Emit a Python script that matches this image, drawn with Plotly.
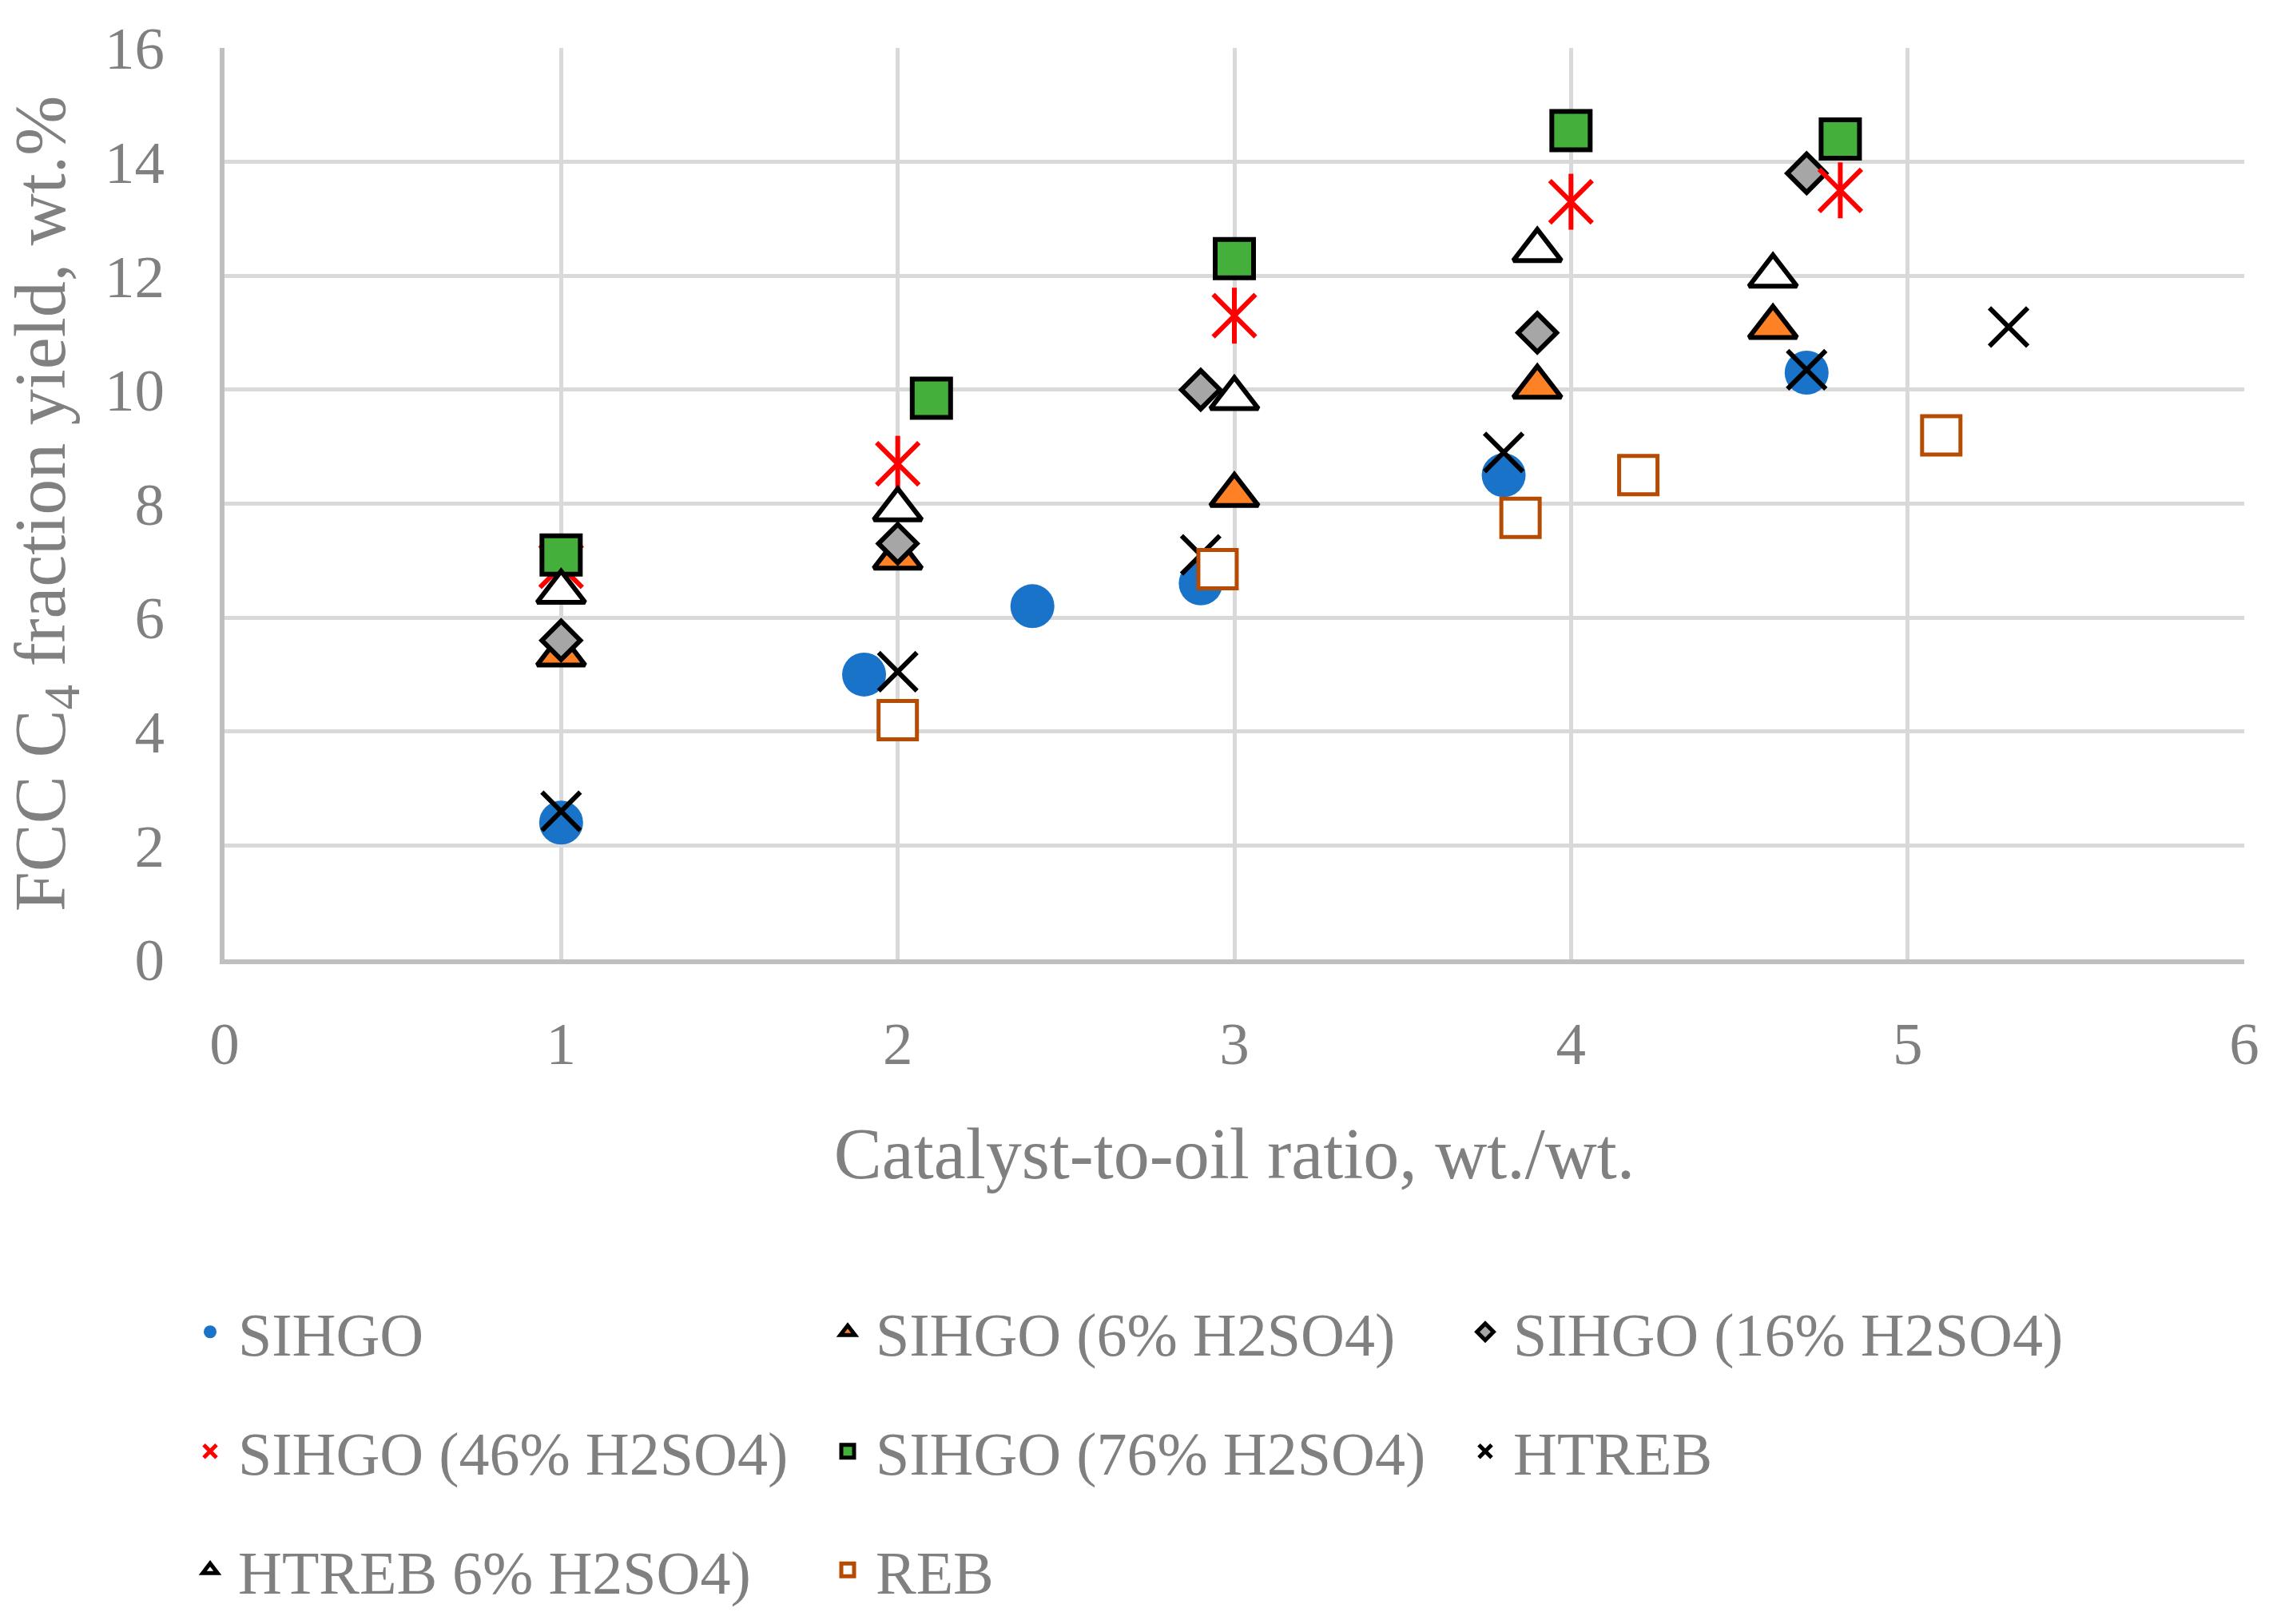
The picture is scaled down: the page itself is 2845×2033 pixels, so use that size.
import plotly.graph_objects as go

# ---- data ----
sihgo_x = [1.0, 1.9, 2.4, 2.9, 3.8, 4.7]
sihgo_y = [2.4, 5.0, 6.2, 6.6, 8.5, 10.3]

s6_x = [1.0, 2.0, 3.0, 3.9, 4.6]
s6_y = [5.35, 7.05, 8.15, 10.05, 11.1]

s16_x = [1.0, 2.0, 2.9, 3.9, 4.7]
s16_y = [5.6, 7.3, 10.0, 11.0, 13.8]

s46_x = [1.0, 2.0, 3.0, 4.0, 4.8]
s46_y = [6.9, 8.7, 11.3, 13.3, 13.5]

s76_x = [1.0, 2.1, 3.0, 4.0, 4.8]
s76_y = [7.1, 9.85, 12.3, 14.55, 14.4]

htreb_x = [1.0, 2.0, 2.9, 3.8, 4.7, 5.3]
htreb_y = [2.6, 5.05, 7.1, 8.9, 10.35, 11.1]

htreb6_x = [1.0, 2.0, 3.0, 3.9, 4.6]
htreb6_y = [6.45, 7.9, 9.85, 12.45, 12.0]

reb_x = [2.0, 2.95, 3.85, 4.2, 5.1]
reb_y = [4.2, 6.85, 7.75, 8.5, 9.2]

x_ticks = [0, 1, 2, 3, 4, 5, 6]
y_ticks = [0, 2, 4, 6, 8, 10, 12, 14, 16]

FONT = "Liberation Serif"
GREY = "#808080"
W, H = 2845, 2033
ML, MR, MT, MB = 281, 36, 60, 828

fig = go.Figure()

def add(x, y, name, symbol, size, color, lcolor, lwidth, legend, showlegend=True, group=None):
    fig.add_trace(go.Scatter(
        x=x, y=y, mode="markers", name=name,
        marker=dict(symbol=symbol, size=size, color=color,
                    line=dict(color=lcolor, width=lwidth)),
        legend=legend, showlegend=showlegend,
        legendgroup=group if group else name,
    ))

add(sihgo_x, sihgo_y, "SIHGO", "circle", 55, "#1873C9", "#1873C9", 0, "legend")
add(s6_x, s6_y, "SIHGO (6% H2SO4)", "triangle-up", 52, "#FF8126", "black", 6, "legend")
add(s16_x, s16_y, "SIHGO (16% H2SO4)", "diamond", 37, "#A6A6A6", "black", 6, "legend")
add(s46_x, s46_y, "SIHGO (46% H2SO4)", "x-thin-open", 53, "#FF0000", "#FF0000", 6, "legend2")
add(s46_x, s46_y, "SIHGO (46% H2SO4)", "line-ns-open", 50, "#FF0000", "#FF0000", 6, "legend2",
    showlegend=False, group="SIHGO (46% H2SO4)")
add(s76_x, s76_y, "SIHGO (76% H2SO4)", "square", 48, "#44B03B", "black", 6, "legend2")
add(htreb_x, htreb_y, "HTREB", "x-thin-open", 48, "black", "black", 6, "legend2")
add(htreb6_x, htreb6_y, "HTREB 6% H2SO4)", "triangle-up", 52, "white", "black", 6, "legend3")
add(reb_x, reb_y, "REB", "square", 48, "white", "#B64B04", 5, "legend3")

plot_h = H - MT - MB
plot_w = W - ML - MR

def ly(py):
    return (H - MB - py) / plot_h

def lx(px):
    return (px - ML) / plot_w

ITEMW = 60
leg_common = dict(orientation="h", xanchor="left", yanchor="middle",
                  font=dict(family=FONT, size=76, color=GREY),
                  entrywidth=793 - (ITEMW + 10), entrywidthmode="pixels",
                  bgcolor="rgba(0,0,0,0)", itemwidth=ITEMW)

fig.update_layout(
    width=W, height=H,
    margin=dict(l=ML, r=MR, t=MT, b=MB),
    paper_bgcolor="white", plot_bgcolor="white",
    font=dict(family=FONT, color=GREY),
    xaxis=dict(
        range=[0, 6], tickvals=x_ticks, ticktext=[str(v) for v in x_ticks],
        showgrid=True, gridcolor="#D9D9D9", gridwidth=5,
        zeroline=False, showline=True, linecolor="#BFBFBF", linewidth=6,
        ticks="", ticklabelstandoff=35,
        tickfont=dict(family=FONT, size=75, color=GREY),
        title=dict(text="Catalyst-to-oil ratio, wt./wt.",
                   font=dict(family=FONT, size=90, color=GREY), standoff=67),
    ),
    yaxis=dict(
        range=[0, 16], tickvals=y_ticks, ticktext=[str(v) for v in y_ticks],
        showgrid=True, gridcolor="#D9D9D9", gridwidth=5,
        zeroline=False, showline=True, linecolor="#BFBFBF", linewidth=6,
        ticks="", ticklabelstandoff=54,
        tickfont=dict(family=FONT, size=75, color=GREY),
        title=dict(text="FCC C<sub>4</sub> fraction yield, wt.%",
                   font=dict(family=FONT, size=90, color=GREY), standoff=22),
    ),
    legend=dict(x=lx(228), y=ly(1673), **leg_common),
    legend2=dict(x=lx(228), y=ly(1823), **leg_common),
    legend3=dict(x=lx(228), y=ly(1972), **leg_common),
)

fig.write_html("out.html", config={"displayModeBar": False},
               post_script="document.body.style.margin='0';")
